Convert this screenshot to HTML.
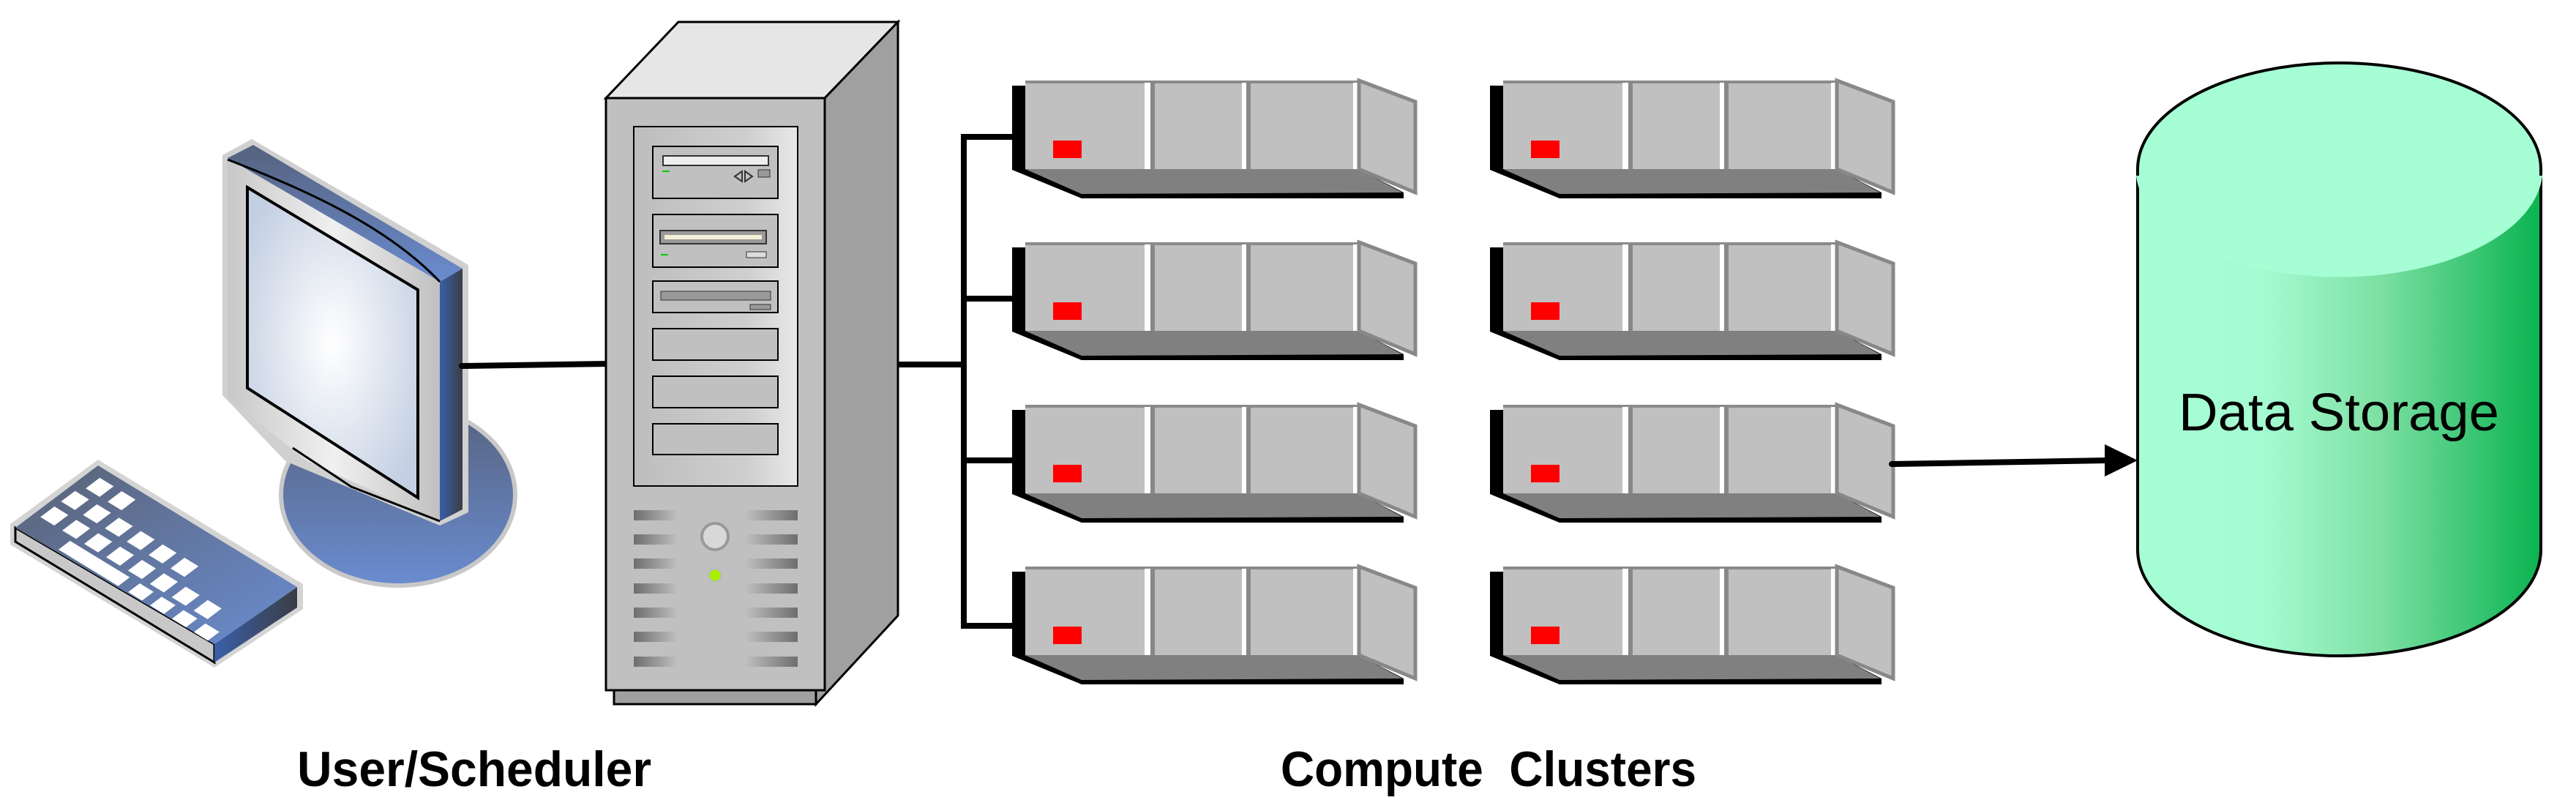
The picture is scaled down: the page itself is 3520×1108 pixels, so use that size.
<!DOCTYPE html>
<html><head><meta charset="utf-8"><style>
html,body{margin:0;padding:0;background:#fff;}
svg{display:block;}
</style></head><body>
<svg width="3520" height="1108" viewBox="0 0 3520 1108" xmlns="http://www.w3.org/2000/svg">
<defs>
<linearGradient id="cyl" x1="0" x2="1" y1="0" y2="0">
<stop offset="0" stop-color="#a6fed4"/><stop offset="0.3" stop-color="#a6fcd2"/><stop offset="0.6" stop-color="#7ee0a4"/><stop offset="1" stop-color="#0ab350"/>
</linearGradient>
<radialGradient id="scr" cx="0.5" cy="0.5" r="0.6"><stop offset="0" stop-color="#ffffff"/><stop offset="1" stop-color="#c3cfe2"/></radialGradient>
<linearGradient id="stand" x1="0" x2="0" y1="0" y2="1"><stop offset="0" stop-color="#56627e"/><stop offset="1" stop-color="#6a8cd0"/></linearGradient>
<linearGradient id="side" x1="0" x2="1" y1="0" y2="0"><stop offset="0" stop-color="#3a5fa8"/><stop offset="1" stop-color="#3a3d44"/></linearGradient>
<linearGradient id="bz" x1="0" x2="1" y1="0" y2="0"><stop offset="0" stop-color="#c8c8c8"/><stop offset="0.5" stop-color="#f0f0f0"/><stop offset="1" stop-color="#c0c0c0"/></linearGradient>
<linearGradient id="kb" x1="0" x2="1" y1="0" y2="1"><stop offset="0" stop-color="#5a6274"/><stop offset="1" stop-color="#6a8cd0"/></linearGradient>
<linearGradient id="pan" x1="0" x2="1" y1="0" y2="0"><stop offset="0" stop-color="#bdbdbd"/><stop offset="0.7" stop-color="#cfcfcf"/><stop offset="1" stop-color="#e8e8e8"/></linearGradient>
<linearGradient id="ventL" x1="0" x2="1"><stop offset="0" stop-color="#6e6e6e"/><stop offset="1" stop-color="#c0c0c0"/></linearGradient>
<linearGradient id="ventR" x1="0" x2="1"><stop offset="0" stop-color="#c0c0c0"/><stop offset="1" stop-color="#6e6e6e"/></linearGradient>
<g id="srv">
<polygon points="0,7 18,7 18,121 95,160 95,161 0,122" fill="#000"/>
<polygon points="18,121 474,121 535,153 535,161 95,161" fill="#000"/>
<polygon points="18,121 474,121 533,153 95,155" fill="#808080"/>
<rect x="18" y="0" width="456" height="121" fill="#c0c0c0"/>
<rect x="18" y="0" width="456" height="4" fill="#8a8a8a"/>
<rect x="181" y="3" width="8" height="118" fill="#fff"/><rect x="189" y="3" width="6" height="118" fill="#888"/>
<rect x="314" y="3" width="6" height="118" fill="#fff"/><rect x="320" y="3" width="6" height="118" fill="#888"/>
<rect x="466" y="3" width="8" height="118" fill="#fff"/>
<polygon points="474,0 551,29 551,153 474,121" fill="#c0c0c0" stroke="#888" stroke-width="5"/>
<rect x="56" y="82" width="39" height="24" fill="#ff0000"/>
</g>
</defs>

<!-- keyboard -->
<polygon points="14,716 134,628 414,798 414,832 293,912 14,744" fill="#d4d4d4"/>
<polygon points="21,721 293,880 293,905 21,740" fill="#c8c8c8" stroke="#000" stroke-width="3"/>
<polygon points="293,880 406,802 406,830 293,905" fill="url(#side)"/>
<polygon points="21,721 134,636 406,802 293,880" fill="url(#kb)"/>
<g transform="matrix(272,166,-113,85,134,636)" fill="#fff">
<rect x="0.05" y="0.1" width="0.07" height="0.17"/><rect x="0.16" y="0.1" width="0.07" height="0.17"/>
<rect x="0.03" y="0.35" width="0.07" height="0.17"/><rect x="0.14" y="0.35" width="0.07" height="0.17"/><rect x="0.25" y="0.35" width="0.07" height="0.17"/><rect x="0.36" y="0.35" width="0.07" height="0.17"/>
<rect x="0.03" y="0.6" width="0.07" height="0.17"/><rect x="0.14" y="0.6" width="0.07" height="0.17"/><rect x="0.25" y="0.6" width="0.07" height="0.17"/><rect x="0.36" y="0.6" width="0.07" height="0.17"/><rect x="0.47" y="0.6" width="0.07" height="0.17"/><rect x="0.58" y="0.6" width="0.07" height="0.17"/><rect x="0.69" y="0.6" width="0.07" height="0.17"/><rect x="0.80" y="0.6" width="0.07" height="0.17"/>
<rect x="0.2" y="0.82" width="0.3" height="0.14"/><rect x="0.55" y="0.82" width="0.07" height="0.14"/><rect x="0.66" y="0.82" width="0.07" height="0.14"/><rect x="0.77" y="0.82" width="0.07" height="0.14"/><rect x="0.88" y="0.82" width="0.07" height="0.14"/>
<rect x="0.47" y="0.35" width="0.07" height="0.17"/><rect x="0.58" y="0.35" width="0.07" height="0.17"/>
</g>

<!-- monitor stand -->
<ellipse cx="544" cy="676" rx="160" ry="124" fill="url(#stand)" stroke="#c8c8c8" stroke-width="6"/>
<!-- monitor -->
<polygon points="304,212 344,190 640,362 640,700 601,718 390,630 304,540" fill="#d0d0d0"/>
<polygon points="311,216 346,198 632,367 601,385" fill="url(#stand)"/>
<polygon points="601,385 632,367 632,696 601,712" fill="url(#side)"/>
<polygon points="311,216 601,385 601,712 420,630 311,544" fill="url(#bz)"/>
<path d="M311,218 C420,260 530,310 601,385" fill="none" stroke="#000" stroke-width="3"/>
<polyline points="400,612 480,665 601,712" fill="none" stroke="#000" stroke-width="3"/>
<polygon points="338,256 571,396 571,680 338,530" fill="url(#scr)" stroke="#000" stroke-width="4"/>

<!-- links -->
<line x1="631" y1="500" x2="831" y2="497" stroke="#000" stroke-width="8" stroke-linecap="round"/>
<line x1="1176" y1="498" x2="1317" y2="498" stroke="#000" stroke-width="8" stroke-linecap="round"/>
<polyline points="1385,187 1317,187 1317,855 1385,855" fill="none" stroke="#000" stroke-width="8"/>
<line x1="1317" y1="408" x2="1385" y2="408" stroke="#000" stroke-width="8"/>
<line x1="1317" y1="629" x2="1385" y2="629" stroke="#000" stroke-width="8"/>

<!-- tower -->
<polygon points="839,940 1115,940 1115,962 839,962" fill="#a0a0a0" stroke="#000" stroke-width="3"/>
<polygon points="828,134 927,30 1227,30 1127,134" fill="#e6e6e6" stroke="#000" stroke-width="3"/>
<polygon points="1127,134 1227,30 1227,841 1115,962 1115,943 1127,943" fill="#a0a0a0" stroke="#000" stroke-width="3"/>
<rect x="828" y="134" width="299" height="809" fill="#c0c0c0" stroke="#000" stroke-width="3"/>
<rect x="866" y="173" width="224" height="491" fill="url(#pan)" stroke="#000" stroke-width="2"/>
<g fill="#c0c0c0" stroke="#000" stroke-width="2">
<rect x="892" y="200" width="171" height="71"/><rect x="892" y="293" width="171" height="72"/><rect x="892" y="384" width="171" height="43"/>
<rect x="892" y="449" width="171" height="43"/><rect x="892" y="514" width="171" height="43"/><rect x="892" y="579" width="171" height="42"/>
</g>
<rect x="906" y="213" width="144" height="13" fill="#eee" stroke="#333" stroke-width="2"/>
<rect x="1036" y="232" width="16" height="10" fill="#999" stroke="#333"/>
<rect x="902" y="315" width="145" height="18" fill="#999" stroke="#333" stroke-width="2"/>
<rect x="908" y="321" width="133" height="6" fill="#f4f0d8"/>
<rect x="1020" y="344" width="27" height="8" fill="#ddd" stroke="#333"/>
<rect x="903" y="398" width="150" height="12" fill="#999" stroke="#333"/>
<rect x="1025" y="416" width="28" height="7" fill="#999" stroke="#333"/>
<polygon points="1004,241 1014,234 1014,248" fill="none" stroke="#333" stroke-width="2"/>
<polygon points="1018,234 1028,241 1018,248" fill="none" stroke="#333" stroke-width="2"/>
<line x1="905" y1="234" x2="915" y2="234" stroke="#0c0" stroke-width="2"/>
<line x1="903" y1="348" x2="913" y2="348" stroke="#0c0" stroke-width="2"/>
<g>
<rect x="866" y="697" width="60" height="14" fill="url(#ventL)"/><rect x="1018" y="697" width="72" height="14" fill="url(#ventR)"/>
<rect x="866" y="730" width="60" height="14" fill="url(#ventL)"/><rect x="1018" y="730" width="72" height="14" fill="url(#ventR)"/>
<rect x="866" y="763" width="60" height="14" fill="url(#ventL)"/><rect x="1018" y="763" width="72" height="14" fill="url(#ventR)"/>
<rect x="866" y="797" width="60" height="14" fill="url(#ventL)"/><rect x="1018" y="797" width="72" height="14" fill="url(#ventR)"/>
<rect x="866" y="830" width="60" height="14" fill="url(#ventL)"/><rect x="1018" y="830" width="72" height="14" fill="url(#ventR)"/>
<rect x="866" y="863" width="60" height="14" fill="url(#ventL)"/><rect x="1018" y="863" width="72" height="14" fill="url(#ventR)"/>
<rect x="866" y="897" width="60" height="14" fill="url(#ventL)"/><rect x="1018" y="897" width="72" height="14" fill="url(#ventR)"/>
</g>
<circle cx="977" cy="733" r="18" fill="#d8d8d8" stroke="#999" stroke-width="4"/>
<circle cx="977" cy="786" r="9" fill="#aaee00" stroke="#bbb" stroke-width="3"/>

<!-- servers -->
<use href="#srv" x="1383" y="110"/><use href="#srv" x="1383" y="331"/><use href="#srv" x="1383" y="553"/><use href="#srv" x="1383" y="774"/>
<use href="#srv" x="2036" y="110"/><use href="#srv" x="2036" y="331"/><use href="#srv" x="2036" y="553"/><use href="#srv" x="2036" y="774"/>

<!-- arrow -->
<line x1="2585" y1="634" x2="2880" y2="629" stroke="#000" stroke-width="8" stroke-linecap="round"/>
<polygon points="2876,607 2921,629 2876,651" fill="#000"/>

<!-- cylinder -->
<path d="M2921,231 L2921,751 A275.5,145 0 0 0 3472,751 L3472,231 Z" fill="url(#cyl)" stroke="#000" stroke-width="4"/>
<ellipse cx="3196.5" cy="231" rx="275.5" ry="145" fill="#a6fed4" stroke="#000" stroke-width="4"/>
<path d="M2921,231 A275.5,145 0 0 0 3472,231" fill="none" stroke="#a6fed4" stroke-width="5"/>
<path d="M2921,231 L2921,240" stroke="#000" stroke-width="4"/><path d="M3472,231 L3472,240" stroke="#000" stroke-width="4"/>
<text x="3196" y="588" font-family="Liberation Sans, sans-serif" font-size="72" text-anchor="middle" textLength="438" lengthAdjust="spacingAndGlyphs">Data Storage</text>

<!-- labels -->
<text x="406" y="1074" font-family="Liberation Sans, sans-serif" font-weight="bold" font-size="68" textLength="484" lengthAdjust="spacingAndGlyphs">User/Scheduler</text>
<text x="1750" y="1074" font-family="Liberation Sans, sans-serif" font-weight="bold" font-size="68" textLength="568" lengthAdjust="spacingAndGlyphs" xml:space="preserve">Compute  Clusters</text>
</svg>
</body></html>
